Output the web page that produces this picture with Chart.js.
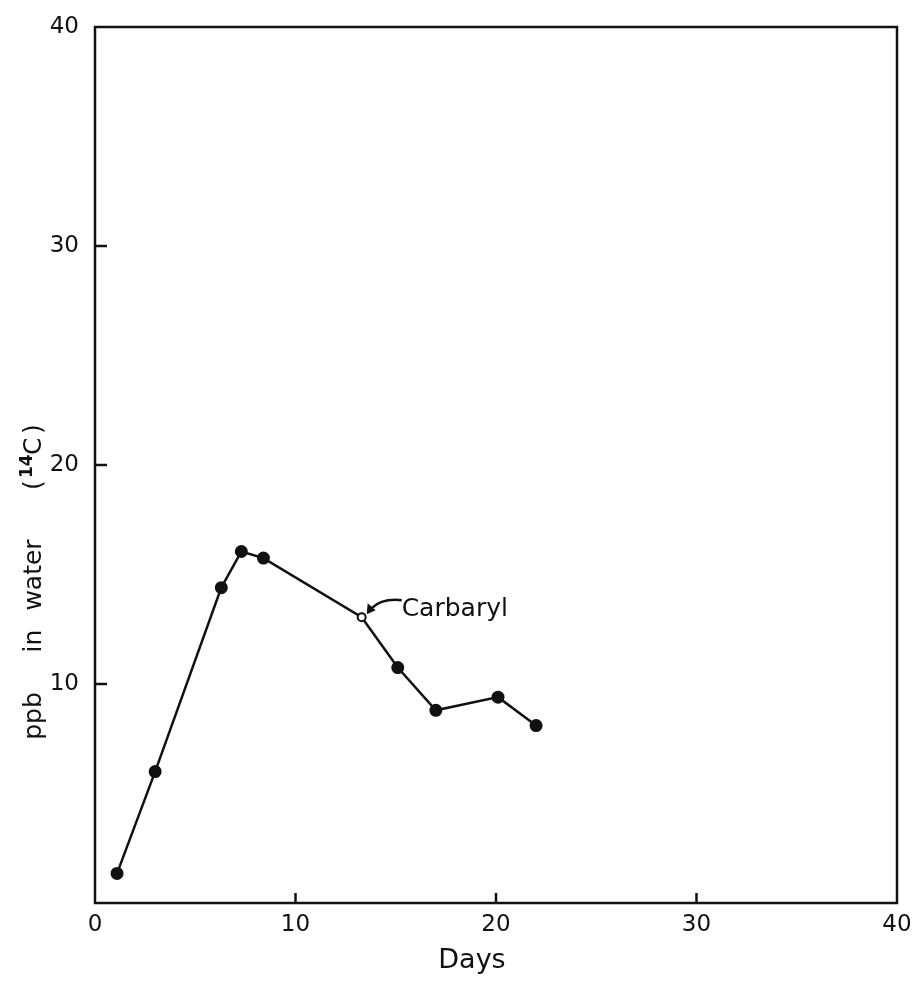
<!DOCTYPE html>
<html>
<head>
<meta charset="utf-8">
<script src="https://cdn.jsdelivr.net/npm/chart.js@4.4.1/dist/chart.umd.min.js"></script>
<style>
  html, body { margin: 0; padding: 0; background: #fff; }
  #wrap { width: 923px; height: 981px; position: relative; }
</style>
</head>
<body>
<div id="wrap"><canvas id="chart"></canvas></div>
<script>
// Carbaryl in water
const days = [1.1, 3.0, 6.3, 7.3, 8.4, 13.3, 15.1, 17.0, 20.1, 22.0];
const ppb = [1.35, 6.0, 14.4, 16.05, 15.75, 13.05, 10.75, 8.8, 9.4, 8.1];
const xTicks = [0, 10, 20, 30, 40];
const yTicks = [10, 20, 30, 40];
const seriesLabel = 'Carbaryl';
const labelIndex = 5; // point the arrow points at

const INK = '#111';
const FONT = "'DejaVu Sans', sans-serif";

// frame, inward ticks, axis titles and the arrow label
const decorations = {
  id: 'decorations',
  afterDraw(chart) {
    const { ctx, chartArea: a, scales: { x, y } } = chart;
    ctx.save();
    ctx.strokeStyle = INK;
    ctx.fillStyle = INK;
    ctx.lineWidth = 2.5;
    ctx.strokeRect(a.left, a.top, a.right - a.left, a.bottom - a.top);

    // inward ticks
    [10, 20, 30].forEach(v => {
      const px = x.getPixelForValue(v);
      ctx.beginPath();
      ctx.moveTo(px, a.bottom);
      ctx.lineTo(px, a.bottom - 10);
      ctx.stroke();
      const py = y.getPixelForValue(v);
      ctx.beginPath();
      ctx.moveTo(a.left, py);
      ctx.lineTo(a.left + 12, py);
      ctx.stroke();
    });

    ctx.textAlign = 'center';
    ctx.textBaseline = 'middle';

    // x title
    ctx.font = `27px ${FONT}`;
    ctx.fillText('Days', 472, 961);

    // y title, rotated, words spaced as in the original
    ctx.save();
    ctx.translate(41, 0);
    ctx.rotate(-Math.PI / 2);
    ctx.textBaseline = 'alphabetic';
    ctx.font = `25px ${FONT}`;
    ctx.fillText('ppb', -716, 0);
    ctx.fillText('in', -641, 0);
    ctx.fillText('water', -575, 0);
    ctx.textAlign = 'left';
    ctx.fillText('(', -490, 0);
    ctx.font = `bold 17px ${FONT}`;
    ctx.fillText('14', -478, -9);
    ctx.font = `25px ${FONT}`;
    ctx.fillText('C', -455, 0);
    ctx.fillText(')', -434, 0);
    ctx.restore();

    // series label with curved arrow
    const px = x.getPixelForValue(days[labelIndex]);
    const py = y.getPixelForValue(ppb[labelIndex]);
    ctx.font = `25px ${FONT}`;
    ctx.textAlign = 'left';
    ctx.fillText(seriesLabel, px + 40, py - 8);
    ctx.lineWidth = 2.5;
    ctx.beginPath();
    ctx.moveTo(px + 40, py - 17);
    ctx.quadraticCurveTo(px + 20, py - 19, px + 10, py - 9);
    ctx.stroke();
    ctx.beginPath();
    ctx.moveTo(px + 5, py - 3);
    ctx.lineTo(px + 6, py - 14);
    ctx.lineTo(px + 14, py - 7);
    ctx.closePath();
    ctx.fill();
    ctx.restore();
  }
};

new Chart(document.getElementById('chart'), {
  type: 'scatter',
  data: {
    datasets: [{
      label: seriesLabel,
      data: days.map((d, i) => ({ x: d, y: ppb[i] })),
      showLine: true,
      borderColor: INK,
      borderWidth: 2.5,
      pointRadius: ppb.map((_, i) => (i === labelIndex ? 4 : 5.5)),
      pointBackgroundColor: ppb.map((_, i) => (i === labelIndex ? '#fff' : INK)),
      pointBorderColor: INK,
      pointBorderWidth: 2,
      tension: 0,
    }],
  },
  options: {
    responsive: true,
    maintainAspectRatio: false,
    animation: false,
    layout: { padding: { top: 27, right: 26, left: 0, bottom: 0 } },
    plugins: {
      legend: { display: false },
      tooltip: { enabled: false },
    },
    scales: {
      x: {
        type: 'linear',
        min: 0,
        max: 40,
        afterBuildTicks: s => { s.ticks = xTicks.map(v => ({ value: v })); },
        afterFit: s => { s.height = 78; },
        grid: { display: false },
        border: { display: false },
        ticks: {
          color: INK,
          padding: 0,
          maxRotation: 0,
          font: { family: FONT, size: 23 },
        },
      },
      y: {
        type: 'linear',
        min: 0,
        max: 40,
        afterBuildTicks: s => { s.ticks = yTicks.map(v => ({ value: v })); },
        afterFit: s => { s.width = 95; },
        grid: { display: false },
        border: { display: false },
        ticks: {
          color: INK,
          padding: 8,
          font: { family: FONT, size: 23 },
        },
      },
    },
  },
  plugins: [decorations],
});
</script>
</body>
</html>
